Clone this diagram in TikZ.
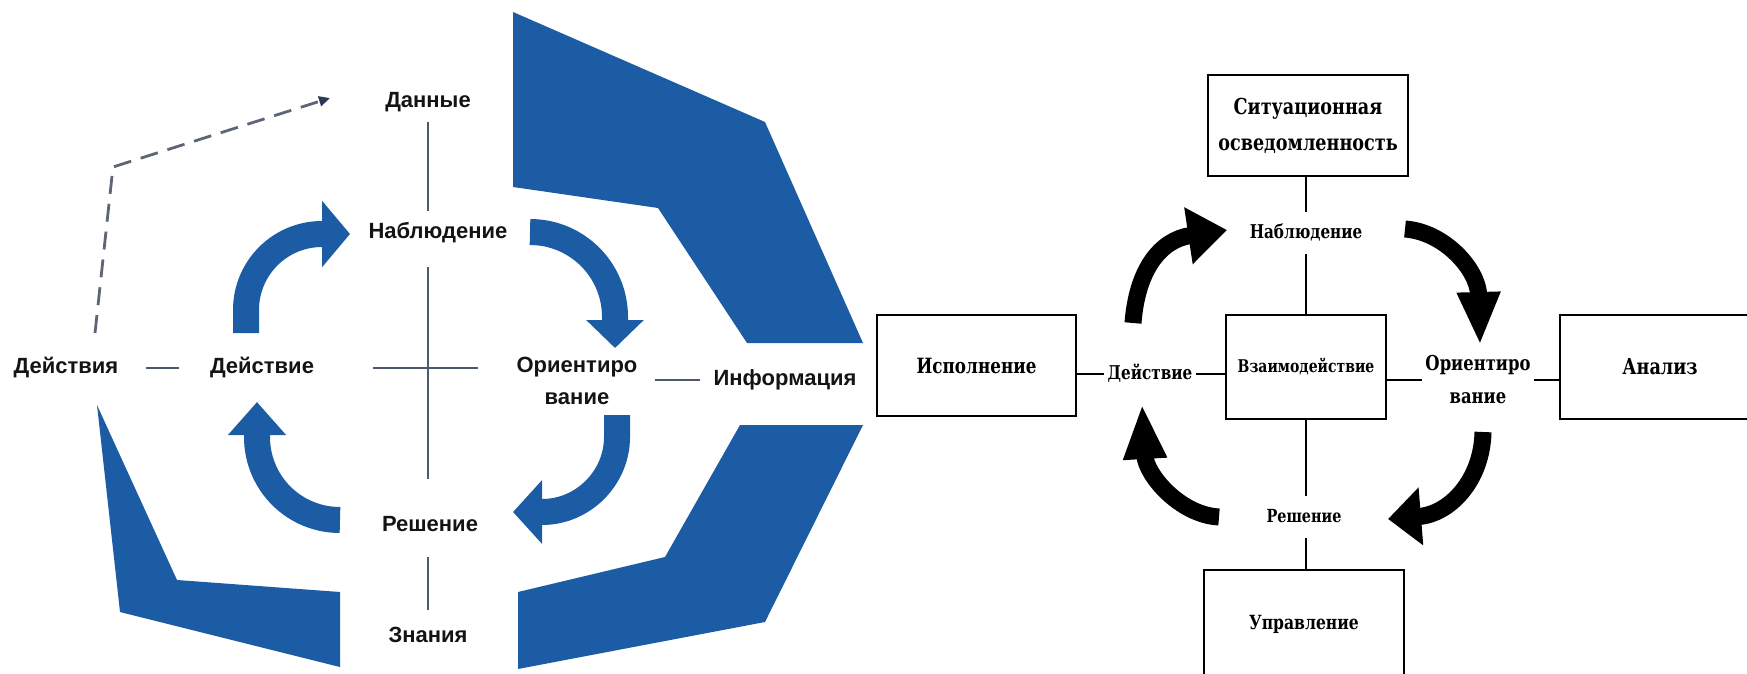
\documentclass[tikz,border=0pt]{standalone}
\usepackage{fontspec}
\setmainfont{Liberation Sans}
\newfontfamily\slab[FakeStretch=0.8]{DejaVu Serif}
\usepackage{tikz}
\usetikzlibrary{calc,arrows.meta}
\definecolor{oodablue}{HTML}{1B5CA5}
\definecolor{linkgray}{HTML}{4E5870}
\definecolor{dashgray}{HTML}{5D6677}
\definecolor{dashtip}{HTML}{2E3A55}
\definecolor{ink}{HTML}{141414}
\tikzset{
  bluefill/.style={fill=oodablue, draw=none},
  bluearr/.style={draw=oodablue, line width=26pt},
  blackarr/.style={draw=black, line width=17pt},
  link/.style={draw=linkgray, line width=2pt},
  wire/.style={draw=black, line width=2pt},
  dashlink/.style={draw=dashgray, line width=2.8pt, dash pattern=on 18pt off 10pt},
  lab/.style={text=ink, font=\bfseries\fontsize{22}{32}\selectfont, inner sep=0pt, align=center},
  tagtwo/.style={font=\slab\bfseries\fontsize{20.5}{33}\selectfont, inner xsep=3pt, inner ysep=4pt, align=center},
  tag/.style={font=\slab\bfseries\fontsize{19}{33}\selectfont, text height=14pt, text depth=4pt, inner xsep=3pt, inner ysep=12pt},
  box/.style={draw=black, line width=2.5pt, font=\slab\bfseries\fontsize{21}{36}\selectfont, align=center},
}
\begin{document}
\begin{tikzpicture}[x=1pt,y=-1pt]
  \useasboundingbox (0,0) rectangle (1747,674);

  % left cycle
  \fill[bluefill] (513,12) -- (765,122) -- (863,343) -- (747,343) -- (658,208) -- (513,187) -- cycle;
  \fill[bluefill] (740,425) -- (863,425) -- (765,622) -- (518,669) -- (518,592) -- (665,557) -- cycle;
  \fill[bluefill] (97,405) -- (177,580) -- (340,592) -- (340,667) -- (120,612) -- cycle;

  \node[lab] (dan) at (428,102) {Данные};
  \node[lab] (nab) at (438,233) {Наблюдение};
  \node[lab] (dejv) at (262,368) {Действие};
  \node[lab] (dejs) at (66,368) {Действия};
  \node[lab] (ori) at (577,381) {Ориентиро\\вание};
  \node[lab] (info) at (785,380) {Информация};
  \node[lab] (resh) at (430,524) {Решение};
  \node[lab] (zn) at (428,635) {Знания};
  \coordinate (hub) at (428,368);

  \draw[link, shorten <=10pt, shorten >=12pt] (dan.south) -- (dan.south |- nab.north);
  \draw[link, shorten <=24pt, shorten >=37pt] (nab.south -| hub) -- (resh.north -| hub);
  \draw[link] ($(hub)+(-55,0)$) -- ($(hub)+(50,0)$);
  \draw[link, shorten <=25pt, shorten >=17pt] (resh.south -| hub) -- (zn.north -| hub);
  \draw[link, shorten <=27pt, shorten >=31pt] (dejs.east) -- (dejv.west);
  \draw[link, shorten <=17pt, shorten >=13pt] (ori.east |- info) -- (info.west);

  \coordinate (dstart) at (95,333);
  \coordinate (dbend) at (113,167);
  \coordinate (dend) at (330,98);
  \draw[dashlink, -{Triangle[length=11pt,width=10pt,color=dashtip]}] (dstart) -- (dbend) -- (dend);

  \draw[bluearr, -{Triangle[length=28pt,width=65pt]}] (246,333) -- (246,310) .. controls (246,268) and (280,234) .. (322,234) -- (350,234);
  \draw[bluearr, -{Triangle[length=28pt,width=56pt]}] (530,232) .. controls (577,232) and (615,270) .. (615,317) -- (615,348);
  \draw[bluearr, -{Triangle[length=29pt,width=62pt]}] (617,415) -- (617,437) .. controls (617,478) and (583,512) .. (542,512) -- (513,512);
  \draw[bluearr, -{Triangle[length=33pt,width=56pt]}] (340,520) .. controls (294,520) and (257,483) .. (257,437) -- (257,402);

  % right cycle
  \node[box, minimum width=200pt, minimum height=101pt, font=\slab\bfseries\fontsize{22}{36}\selectfont] (sit) at (1308,125.5) {Ситуационная\\осведомленность};
  \node[box, minimum width=199pt, minimum height=101pt] (isp) at (976.5,365.5) {Исполнение};
  \node[box, minimum width=160pt, minimum height=104pt, font=\slab\bfseries\fontsize{17.5}{24}\selectfont] (vz) at (1306,367) {Взаимодействие};
  \node[box, minimum width=200pt, minimum height=104pt, font=\slab\bfseries\fontsize{22}{30}\selectfont] (an) at (1660,367) {Анализ};
  \node[box, minimum width=200pt, minimum height=108pt, font=\slab\bfseries\fontsize{19.5}{30}\selectfont] (upr) at (1304,624) {Управление};

  \node[tag] (nabR) at (1306,233) {Наблюдение};
  \node[tag] (dejR) at (1150,374) {Действие};
  \node[tag, font=\slab\bfseries\fontsize{18}{33}\selectfont] (reshR) at (1304,517) {Решение};
  \node[tagtwo] (oriR) at (1478,380) {Ориентиро\\вание};

  \draw[wire] (sit.south -| nabR) -- (nabR.north);
  \draw[wire] (nabR.south) -- (nabR.south |- vz.north);
  \draw[wire] (vz.south) -- (vz.south |- reshR.north);
  \draw[wire] (reshR.south -| vz) -- (upr.north -| vz);
  \draw[wire] (isp.east |- dejR) -- (dejR.west);
  \draw[wire] (dejR.east) -- (vz.west |- dejR);
  \draw[wire] (vz.east |- oriR.west) -- (oriR.west);
  \draw[wire] (oriR.east) -- (an.west |- oriR.east);

  \draw[blackarr, -{Triangle[length=39pt,width=55pt]}] (1133,323) .. controls (1137,270) and (1160,240) .. (1227,230);
  \draw[blackarr, -{Triangle[length=53pt,width=40pt]}] (1405,229) .. controls (1445,232) and (1478,270) .. (1480,345);
  \draw[blackarr, -{Triangle[length=33pt,width=56pt]}] (1483,432) .. controls (1482,480) and (1450,514) .. (1388,519);
  \draw[blackarr, -{Triangle[length=55pt,width=40pt]}] (1219,517) .. controls (1180,515) and (1146,475) .. (1142,404);
\end{tikzpicture}
\end{document}
